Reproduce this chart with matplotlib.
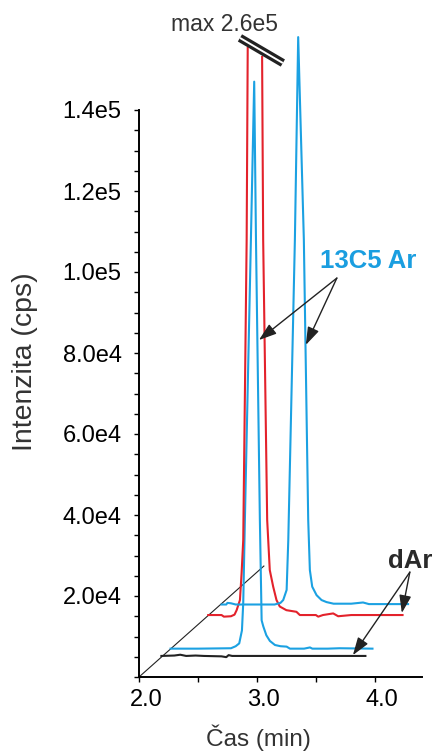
import matplotlib
matplotlib.use("Agg")
import matplotlib.pyplot as plt
from matplotlib.ticker import MultipleLocator, FuncFormatter
from matplotlib.transforms import ScaledTranslation

plt.rcParams['font.family'] = ['Liberation Sans', 'DejaVu Sans']

# traces in plotted (offset) coordinates: time (min), intensity (cps)
black_t = [2.19, 2.30, 2.35, 2.40, 2.48, 2.55, 2.70, 2.74, 2.76, 2.79, 3.20, 3.92]
black_i = [5200, 5300, 5500, 5200, 5300, 5200, 5100, 4900, 5400, 5200, 5200, 5200]

blue1_t = [2.268, 2.50, 2.78, 2.82, 2.85, 2.873, 2.884, 2.898, 2.949, 2.977, 2.992,
           3.025, 3.040, 3.054, 3.080, 3.110, 3.153, 3.20, 3.252, 3.28, 3.40, 3.45,
           3.47, 3.60, 3.70, 3.98]
blue1_i = [7000, 7000, 7100, 7600, 8300, 11500, 18300, 38800, 108000, 147000, 108000,
           38800, 14000, 12500, 10300, 8900, 7900, 7600, 7500, 7000, 7000, 7300,
           7000, 7000, 7100, 7000]

red_t = [2.587, 2.70, 2.72, 2.78, 2.81, 2.828, 2.856, 2.870, 2.884, 2.913, 2.922,
         None, 3.044, 3.053, 3.087, 3.109, 3.138, 3.166, 3.194, 3.25, 3.335, 3.364,
         3.50, 3.52, 3.56, 3.647, 3.689, 3.80, 4.235]
red_i = [15300, 15300, 14900, 15000, 15400, 16500, 19000, 25600, 33800, 108000, 155300,
         None, 153100, 108000, 38800, 26400, 22300, 19000, 17400, 16500, 16100, 15300,
         15300, 14900, 15300, 15700, 15000, 15300, 15300]

blue2_t = [2.70, 2.74, 2.75, 2.78, 2.82, 3.15, 3.20, 3.223, 3.252, 3.266, 3.322, 3.350,
           3.398, 3.435, 3.449, 3.469, 3.506, 3.548, 3.59, 3.65, 3.80, 3.90, 3.95,
           4.10, 4.282]
blue2_i = [17900, 17900, 18300, 18200, 17900, 17900, 18300, 19000, 21500, 33800,
           108000, 158000, 108000, 38800, 26400, 22300, 20200, 19000, 18500, 18100,
           18100, 18400, 18000, 18000, 18000]

# depth guide line and the axis-break mark
diag_t = [2.0, 3.059]
diag_i = [0, 27400]
break_t = [2.856, 3.220]
break_i = [157800, 151600]

BLUE = '#1ba1e2'
RED = '#e3222b'
DARK = '#222222'

fig = plt.figure(figsize=(4.37, 7.54), dpi=100)
ax = fig.add_axes([139 / 437, 1 - 677 / 754, 283 / 437, 567 / 754])


def nan_list(v):
    return [float('nan') if x is None else x for x in v]


ax.plot(diag_t, diag_i, color=DARK, lw=0.8, clip_on=False)
ax.plot(black_t, black_i, color=DARK, lw=1.5, clip_on=False)
ax.plot(blue1_t, blue1_i, color=BLUE, lw=1.5, clip_on=False)
ax.plot(nan_list(red_t), nan_list(red_i), color=RED, lw=1.5, clip_on=False)
ax.plot(blue2_t, blue2_i, color=BLUE, lw=1.5, clip_on=False)

# break mark: double line
ax.plot(break_t, break_i, color=DARK, lw=6.0, solid_capstyle='butt', clip_on=False)
ax.plot(break_t, break_i, color='white', lw=1.4, solid_capstyle='butt', clip_on=False)
ax.text(2.729, 161000, 'max 2.6e5', ha='center', va='center', fontsize=16.5,
        color='#333333')

ax.set_xlim(2.0, 4.4)
ax.set_ylim(0, 140000)
for s in ('top', 'right'):
    ax.spines[s].set_visible(False)
for s in ('left', 'bottom'):
    ax.spines[s].set_linewidth(1.4)
    ax.spines[s].set_color('black')

ax.xaxis.set_major_locator(MultipleLocator(1.0))
ax.xaxis.set_minor_locator(MultipleLocator(0.5))
ax.yaxis.set_major_locator(MultipleLocator(20000))
ax.yaxis.set_minor_locator(MultipleLocator(5000))
ax.xaxis.set_major_formatter(FuncFormatter(lambda v, p: f'{v:.1f}'))


def sci(v, p):
    if v <= 0:
        return ''
    s = f'{v:.1e}'
    m, e = s.split('e')
    return f'{m}e{int(e)}'


ax.yaxis.set_major_formatter(FuncFormatter(sci))
ax.tick_params(axis='both', which='both', direction='out', length=3.5, width=1,
               labelsize=17, colors='black')
ax.tick_params(axis='y', pad=9)
ax.tick_params(axis='x', pad=5)

# x tick labels sit a little right of their ticks in the original
shift = ScaledTranslation(7 / 100, 0, fig.dpi_scale_trans)
for lab in ax.get_xticklabels():
    lab.set_transform(lab.get_transform() + shift)

fig.text(25 / 437, 1 - 362 / 754, 'Intenzita (cps)', rotation=90, ha='center',
         va='center', fontsize=20.5, color='#333333')
fig.text(258 / 437, 1 - 738 / 754, 'Čas (min)', ha='center', va='center',
         fontsize=17.5, color='#333333')

arrow = dict(arrowstyle='-|>,head_length=0.8,head_width=0.27', mutation_scale=13.5,
             color=DARK, lw=1, shrinkA=0, shrinkB=0)
ax.text(3.941, 102700, '13C5 Ar', ha='center', va='center', fontsize=18.5,
        fontweight='bold', color='#1a9ee0')
ax.annotate('', xy=(3.017, 83200), xytext=(3.678, 98500), arrowprops=arrow,
            annotation_clip=False)
ax.annotate('', xy=(3.415, 82000), xytext=(3.678, 98500), arrowprops=arrow,
            annotation_clip=False)

ax.text(4.297, 28600, 'dAr', ha='center', va='center', fontsize=18.5,
        fontweight='bold', color='#2a2a2a')
ax.annotate('', xy=(3.814, 5400), xytext=(4.297, 25900), arrowprops=arrow,
            annotation_clip=False)
ax.annotate('', xy=(4.229, 15800), xytext=(4.297, 25900), arrowprops=arrow,
            annotation_clip=False)

fig.savefig('out.png', dpi=100)
